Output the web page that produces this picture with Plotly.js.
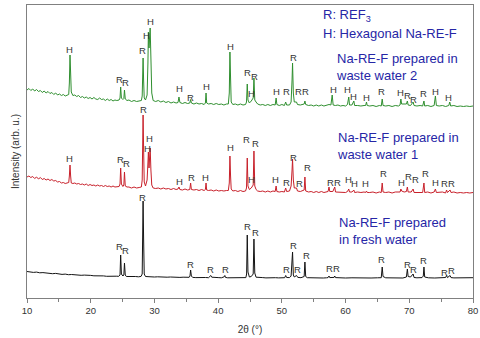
<!DOCTYPE html>
<html>
<head>
<meta charset="utf-8">
<script src="https://cdn.plot.ly/plotly-3.0.1.min.js"></script>
<style>
  html, body { margin: 0; padding: 0; background: #fff; }
  #chart { width: 480px; height: 338px; }
</style>
</head>
<body>
<div id="chart"></div>
<script>
// XRD patterns of Na-RE-F samples, stacked with vertical offsets (arb. u.)

// Sample prepared in fresh water: [2theta, intensity]
const freshWater = [
  [10,26.5],[10.5,26],[11,25.6],[11.5,25.9],[12,25.2],[12.5,25.4],[13,24.8],[13.5,24.9],[14,24.3],[14.5,24.6],
  [15,24],[15.5,23.6],[16,23.9],[16.5,23.3],[17,23.5],[17.5,23],[18,23.2],[18.5,22.7],[19,22.9],[19.5,22.4],
  [20,22.6],[20.5,22.2],[21,22.4],[21.5,21.9],[22,22.1],[22.5,21.7],[23,21.9],[23.5,21.6],[24,21.8],[24.4,21.7],
  [24.6,23],[24.7,43],[24.82,24],[25.05,22],[25.2,23],[25.3,35],[25.42,23],[25.6,21.5],
  [26,21.6],[26.5,21.3],[27,21.5],[27.5,21.2],[27.9,21.6],
  [28.08,24],[28.17,70],[28.22,97],[28.3,60],[28.4,24],[28.6,21.5],
  [29,21.2],[29.5,21.4],[30,21],[30.5,21.2],[31,20.9],[31.5,21.1],[32,20.8],[32.5,21],[33,20.7],[33.5,20.9],
  [34,20.6],[34.5,20.8],[35,20.5],[35.45,20.7],[35.58,22],[35.68,28],[35.8,22],
  [36,20.6],[36.5,20.4],[37,20.6],[37.5,20.3],[38,20.5],[38.5,20.3],[38.75,21.5],[38.85,22.5],[39.0,20.8],
  [39.5,20.3],[40,20.4],[40.5,20.2],[40.95,21.2],[41.05,22.5],[41.15,20.6],[41.5,20.2],[42,20.3],[42.5,20.1],
  [43,20.3],[43.5,20.1],[44,20.2],[44.35,20.4],
  [44.47,24],[44.57,63],[44.68,26],[44.9,21],[45.2,21.5],[45.5,24],[45.62,59],[45.75,25],[45.95,20.8],
  [46.5,20.2],[47,20.4],[47.5,20.1],[48,20.3],[48.5,20.1],[49,20.3],[49.5,20.1],[50,20.2],[50.45,20.3],
  [50.6,22.5],[50.75,20.5],[51.2,20.4],[51.45,22],[51.6,38],[51.68,46],[51.8,23],[51.95,21],[52.3,22.5],
  [52.5,20.6],[53,20.3],[53.5,21.5],[53.62,36],[53.74,21.5],[54,20.3],[54.5,20.1],[55,20.3],[55.5,20.1],
  [56,20.2],[56.5,20],[57,20.2],[57.25,20.4],[57.4,22],[57.52,20.4],[58.2,20.6],[58.3,22],[58.42,20.4],
  [59,20.1],[59.5,20.3],[60,20],[61,20.2],[62,20],[63,20.2],[64,20],[65,20.2],[65.6,20.3],
  [65.75,31],[65.88,21.5],[66.3,20.2],[67,20],[68,20.2],[69,20],[69.55,21],[69.7,29],[69.82,21.5],
  [70.2,21],[70.6,24],[70.75,20.5],[71.2,20.2],[72,20.4],[72.2,22],[72.3,31],[72.42,21],[73,20.2],
  [74,20],[75,20.2],[75.7,20.5],[75.85,22.5],[76,20.4],[76.4,22.5],[76.55,20.4],[77,20.1],[78,20.3],
  [79,20.1],[80,20.3]
];

// Sample prepared in waste water 1
const wasteWater1 = [
  [10,121],[10.3,122],[10.6,120.5],[10.9,121.5],[11.2,119.5],[11.5,121],[11.8,119],[12.1,120.5],[12.4,118.5],
  [12.7,119.5],[13,118],[13.3,119],[13.6,117.5],[13.9,118.5],[14.2,117],[14.5,117.5],[14.8,116],[15.1,116.5],
  [15.4,115],[15.7,115.5],[16,114.5],[16.3,115],[16.55,115.5],
  [16.65,122],[16.75,133],[16.85,122],[16.95,115],[17.2,114.5],
  [17.5,115],[17.8,114],[18.1,114.5],[18.4,113.5],[18.7,114],[19,113],[19.3,114],[19.6,112.5],[19.9,113.5],
  [20.2,112.5],[20.5,113],[20.8,112],[21.1,113],[21.4,112],[21.7,112.5],[22,111.5],[22.3,112.5],[22.6,111.5],
  [22.9,112],[23.2,111],[23.5,112],[23.8,111],[24.1,111.5],[24.45,111.5],
  [24.6,114],[24.7,130],[24.82,114],[25.05,111.5],[25.2,113],[25.3,126],[25.42,112],[25.7,111],
  [26,111],[26.4,110],[26.8,111],[27.2,110],[27.6,110.5],[27.95,111],
  [28.08,118],[28.17,160],[28.22,183],[28.3,150],[28.4,116],[28.6,112],[28.85,118],[28.98,135],[29.05,146],
  [29.15,130],[29.25,140],[29.33,150],[29.45,128],[29.58,113],[29.8,110],
  [30.2,109.5],[30.6,110],[31,109],[31.4,110],[31.8,109],[32.2,109.5],[32.6,108.5],[33,109.5],[33.4,108.5],
  [33.7,109],[33.85,111],[34,108.5],[34.4,108],[34.8,109],[35.2,108],[35.55,108.5],[35.68,115],[35.8,108.5],
  [36.2,108],[36.6,108.5],[37,107.5],[37.4,108.5],[37.8,107.5],[38,108.5],[38.1,115],[38.2,108],[38.5,107.5],
  [38.9,108],[39.3,107],[39.7,108],[40.1,107],[40.5,107.5],[40.9,107],[41.3,107.5],[41.6,107.5],
  [41.75,115],[41.85,142],[41.95,122],[42.05,109],[42.3,107],[42.7,107.5],[43.1,106.5],[43.5,107.5],
  [43.9,106.5],[44.3,107],[44.45,110],[44.57,140],[44.68,112],[44.9,108.5],[45.2,110],[45.5,113],
  [45.62,147],[45.75,112],[45.95,108.5],[46.2,107],[46.6,106.5],[47,107],[47.4,106],[47.8,107],[48.2,106],
  [48.6,107],[48.95,106.5],[49.1,112],[49.22,106.5],[49.6,106],[50,106.5],[50.4,106],[50.6,110],[50.75,106.5],
  [51.2,107],[51.45,112],[51.6,128],[51.68,139],[51.8,118],[51.95,110],[52.3,110],[52.45,107],[52.9,106.5],
  [53.3,107],[53.5,108],[53.62,121],[53.74,107],[54.2,106],[54.6,106.5],[55,105.5],[55.4,106.5],[55.8,105.5],
  [56.2,106.5],[56.6,105.5],[57,106],[57.25,106.5],[57.4,111],[57.52,106.5],[58,106.5],[58.3,111],[58.42,106],
  [58.8,106],[59.2,105.5],[59.6,106],[60,105.5],[60.3,106.5],[60.5,109],[60.62,106],[61,106],[61.3,108],
  [61.42,105.5],[61.9,106],[62.4,105.5],[62.9,106],[63.15,105.5],[63.28,107],[63.4,105.5],[63.8,105.5],
  [64.3,106],[64.8,105],[65.3,106],[65.6,105.5],[65.75,115],[65.88,106],[66.3,105.5],[66.8,106],[67.3,105],
  [67.8,106],[68.3,105.5],[68.55,106],[68.68,109],[68.8,107],[69.2,106],[69.55,106.5],[69.7,111],[69.82,106],
  [70.3,106],[70.6,109],[70.75,105.5],[71.2,105.5],[71.7,106],[72.1,105.5],[72.3,115],[72.42,105.5],
  [72.9,106],[73.4,105],[73.9,106],[74.1,109],[74.25,105.5],[74.7,105.5],[75.2,106],[75.7,105],[75.85,108],
  [76,105.5],[76.4,108],[76.55,105.5],[77,106],[77.5,105],[78,105.5],[78.5,105],[79,105.5],[79.5,105],[80,105.5]
];

// Sample prepared in waste water 2
const wasteWater2 = [
  [10,208],[10.3,209.5],[10.6,207.5],[10.9,209],[11.2,207],[11.5,208.5],[11.8,206.5],[12.1,207.5],[12.4,205.5],
  [12.7,207],[13,205],[13.3,206.5],[13.6,204.5],[13.9,205.5],[14.2,203.5],[14.5,205],[14.8,203],[15.1,204],
  [15.4,202.5],[15.7,203.5],[16,202],[16.3,203],[16.55,203.5],
  [16.65,215],[16.75,243],[16.85,225],[16.95,206],[17.2,202.5],
  [17.5,203],[17.8,201.5],[18.1,202.5],[18.4,200.5],[18.7,201.5],[19,200],[19.3,201],[19.6,199.5],[19.9,200.5],
  [20.2,199],[20.5,200.5],[20.8,199],[21.1,198.5],[21.4,200],[21.7,198.5],[22,199],[22.3,197.5],[22.6,199],
  [22.9,197.5],[23.2,198.5],[23.5,197],[23.8,198],[24.1,197.5],[24.45,198],
  [24.6,200],[24.7,211],[24.82,200],[25.05,198.5],[25.2,199.5],[25.3,208],[25.42,199],[25.7,197.5],
  [26,198],[26.4,196.5],[26.8,197.5],[27.2,196.5],[27.6,197],[27.95,197.5],
  [28.08,202],[28.17,225],[28.22,240],[28.3,218],[28.4,200],[28.6,198],[28.85,203],[28.98,235],[29.05,266],
  [29.15,250],[29.25,262],[29.33,270],[29.45,240],[29.58,205],[29.8,197.5],
  [30.2,196.5],[30.6,197.5],[31,196],[31.4,197],[31.8,195.5],[32.2,196.5],[32.6,195],[33,196],[33.4,195],
  [33.7,195.5],[33.85,201],[34,195.5],[34.4,194.5],[34.8,195.5],[35.2,194.5],[35.55,195],[35.68,198.5],
  [35.8,195],[36.2,194],[36.6,195],[37,194],[37.4,194.5],[37.8,193.5],[38,195],[38.1,205],[38.2,195],
  [38.5,194],[38.9,194.5],[39.3,193.5],[39.7,194.5],[40.1,193.5],[40.5,194],[40.9,193],[41.3,194],[41.6,194],
  [41.75,205],[41.85,246],[41.95,220],[42.05,196],[42.3,193.5],[42.7,194],[43.1,193],[43.5,194],[43.9,193],
  [44.3,193.5],[44.45,196],[44.57,214],[44.68,198],[44.9,195],[45.2,197],[45.5,200],[45.62,220],[45.75,198],
  [45.95,196],[46.2,194],[46.6,193],[47,193.5],[47.4,192.5],[47.8,193.5],[48.2,192.5],[48.6,193.5],[48.95,193],
  [49.1,200],[49.22,193.5],[49.6,192.5],[50,193.5],[50.4,192.5],[50.6,196],[50.75,193],[51.2,193],[51.45,196],
  [51.6,218],[51.68,235],[51.8,205],[51.95,196],[52.3,196],[52.45,193.5],[52.9,193],[53.3,193.5],[53.5,194],
  [53.62,197],[53.74,193.5],[54.2,192.5],[54.6,193],[55,192],[55.4,193],[55.8,192],[56.2,193],[56.6,192],
  [57,192.5],[57.4,193.5],[57.7,193],[57.9,203],[58.05,193],[58.4,192.5],[58.8,193],[59.2,192],[59.6,192.5],
  [60,192],[60.3,193.5],[60.5,201],[60.62,193],[61,193],[61.3,197],[61.42,192.5],[61.9,192.5],[62.4,192],
  [62.9,192.5],[63.15,192.5],[63.28,196],[63.4,192.5],[63.8,192],[64.3,192.5],[64.8,191.5],[65.3,192.5],
  [65.6,192],[65.75,199],[65.88,192.5],[66.3,192],[66.8,192.5],[67.3,191.5],[67.8,192.5],[68.3,192],
  [68.55,193],[68.68,199],[68.8,194],[69.2,194],[69.55,194],[69.7,197],[69.82,193],[70.2,192.5],[70.6,196],
  [70.75,192.5],[71.2,192],[71.7,192.5],[72.1,192],[72.3,197],[72.42,192],[72.9,192.5],[73.4,191.5],
  [73.9,192.5],[74.1,202],[74.25,192.5],[74.7,192],[75.2,192.5],[75.7,191.5],[76.2,192.5],[76.35,196],
  [76.5,192],[77,192.5],[77.5,191.5],[78,192],[78.5,191.5],[79,192],[79.5,191.5],[80,192]
];

// Phase markers above reflections: [2theta, level, phase]
const freshLabels = [
  [24.5,52,'R'],[25.5,48,'R'],[28.2,101,'R'],[35.65,34,'R'],[38.8,29,'R'],[41.1,29,'R'],
  [44.6,72,'R'],[45.8,66,'R'],[50.65,29,'R'],[51.75,53,'R'],[52.5,29,'R'],[53.8,43,'R'],
  [57.4,30,'R'],[58.55,30,'R'],[65.7,39,'R'],[69.65,34,'R'],[70.7,29,'R'],[72.3,38,'R'],
  [75.5,26,'R'],[76.55,28,'R']
];
const waste1Labels = [
  [16.64,140,'H'],[24.65,139,'R'],[25.6,135,'R'],[28.3,189,'R'],[29.25,160,'H'],[28.9,150,'H'],
  [33.9,117,'H'],[35.75,121,'R'],[38.0,121,'H'],[41.9,151,'H'],[44.5,159,'R'],[45.85,155,'R'],
  [45.2,119,'H'],[49.0,119,'H'],[50.8,116,'R'],[51.85,141,'R'],[52.75,115,'R'],[54.05,131,'R'],
  [57.6,116,'R'],[58.75,116,'R'],[60.5,119,'H'],[61.4,115,'H'],[63.1,115,'H'],[66.0,125,'R'],
  [68.7,116,'H'],[69.9,122,'R'],[70.95,119,'R'],[72.55,125,'R'],[74.1,116,'H'],[75.55,115,'R'],
  [76.7,115,'R']
];
const waste2Labels = [
  [16.64,249,'H'],[24.5,219,'R'],[25.4,216,'R'],[28.2,248,'R'],[29.35,277,'H'],[28.75,263,'H'],
  [33.9,210,'H'],[35.65,201,'R'],[38.1,212,'H'],[41.9,252,'H'],[44.55,226,'R'],[45.7,222,'R'],
  [45.3,205,'H'],[49.1,207,'H'],[50.65,207,'R'],[51.85,241,'R'],[52.65,207,'R'],[53.7,207,'R'],
  [58.1,209,'H'],[60.3,209,'H'],[61.3,202,'H'],[63.3,201,'H'],[65.7,207,'R'],[68.6,206,'H'],
  [69.65,203,'R'],[70.7,199,'R'],[72.3,205,'R'],[74.1,207,'H'],[76.2,201,'H']
];

// Sample captions and phase key: [2theta, level, text]
const captions = [
  [56.2,283,'R: REF<sub>3</sub>'],
  [56.2,265,'H: Hexagonal Na-RE-F'],
  [58.25,231.5,'Na-RE-F prepared in<br>waste water 2'],
  [58.4,152,'Na-RE-F prepared in<br>waste water 1'],
  [58.7,67,'Na-RE-F prepared<br>in fresh water']
];

const FONT = 'Liberation Sans, Arial, sans-serif';

function pattern(pts, color) {
  return {
    type: 'scatter', mode: 'lines',
    x: pts.map(p => p[0]), y: pts.map(p => p[1]),
    line: {color: color, width: 1}, hoverinfo: 'skip'
  };
}

const traces = [
  pattern(freshWater, '#141414'),
  pattern(wasteWater1, '#c8202a'),
  pattern(wasteWater2, '#2f8f2f')
];

const annotations = [];
[freshLabels, waste1Labels, waste2Labels].forEach(list => {
  list.forEach(l => annotations.push({
    x: l[0], y: l[1], text: l[2], xref: 'x', yref: 'y', showarrow: false,
    xanchor: 'center', yanchor: 'middle',
    font: {family: FONT, size: 9.5, color: '#333'}
  }));
});
captions.forEach(c => annotations.push({
  x: c[0], y: c[1], text: c[2], xref: 'x', yref: 'y', showarrow: false,
  xanchor: 'left', yanchor: 'middle', align: 'left',
  font: {family: FONT, size: 13, color: '#2626a6'}
}));

const layout = {
  width: 480, height: 338,
  margin: {l: 27, r: 7, t: 5, b: 40},
  paper_bgcolor: '#fff', plot_bgcolor: '#fff',
  showlegend: false,
  font: {family: FONT, color: '#333'},
  xaxis: {
    range: [10, 80], dtick: 10, tick0: 10,
    showgrid: false, zeroline: false,
    showline: true, mirror: true, linecolor: '#808080', linewidth: 1,
    ticks: 'outside', ticklen: 4, tickcolor: '#808080',
    minor: {dtick: 5, ticks: 'outside', ticklen: 3, tickcolor: '#808080'},
    tickfont: {family: FONT, size: 9.5, color: '#333'},
    title: {text: '2θ (°)', font: {family: FONT, size: 10, color: '#333'}, standoff: 10}
  },
  yaxis: {
    range: [0, 293], showgrid: false, zeroline: false,
    showline: true, mirror: true, linecolor: '#808080', linewidth: 1,
    showticklabels: false, ticks: '',
    title: {text: 'Intensity (arb. u.)', font: {family: FONT, size: 10, color: '#333'}, standoff: 4}
  },
  annotations: annotations
};

Plotly.newPlot('chart', traces, layout, {staticPlot: true, displayModeBar: false});
</script>
</body>
</html>
